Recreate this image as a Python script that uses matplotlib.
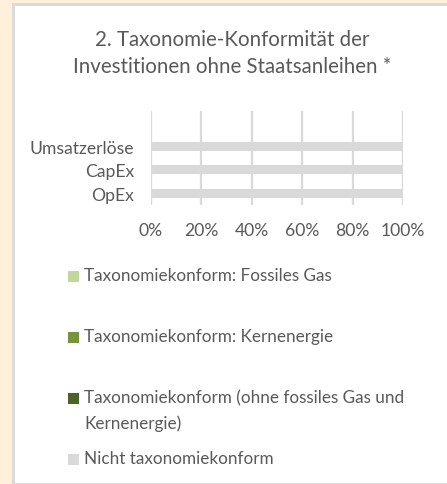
import matplotlib.pyplot as plt
from matplotlib.patches import Rectangle
import matplotlib.ticker as mticker

# --- Daten ---
categories = ["OpEx", "CapEx", "Umsatzerlöse"]
fossiles_gas = [0, 0, 0]
kernenergie = [0, 0, 0]
ohne_gas_kern = [0, 0, 0]
nicht_konform = [100, 100, 100]

series_labels = [
    "Taxonomiekonform: Fossiles Gas",
    "Taxonomiekonform: Kernenergie",
    "Taxonomiekonform (ohne fossiles Gas und\nKernenergie)",
    "Nicht taxonomiekonform",
]
series_colors = ["#C4D79B", "#77933C", "#4F6228", "#D9D9D9"]
x_ticks = [0, 20, 40, 60, 80, 100]

plt.rcParams["font.family"] = ["Lato", "DejaVu Sans"]
text_color = "#595959"

W, H = 447, 485
fig = plt.figure(figsize=(W / 100, H / 100), dpi=100)
fig.patch.set_facecolor("#FFEFDB")

# weißes Panel mit grauem Rand
fig.patches.append(Rectangle((13 / W, 0), 1, 1 - 5 / H, transform=fig.transFigure,
                             facecolor="white", edgecolor="#D9D9D9", linewidth=2, zorder=-10))

ax = fig.add_axes([151 / W, 1 - 206 / H, (403 - 151) / W, (206 - 112) / H])
ax.set_facecolor("white")

y = list(range(len(categories)))
left = [0, 0, 0]
for vals, lab, col in zip([fossiles_gas, kernenergie, ohne_gas_kern, nicht_konform],
                          series_labels, series_colors):
    ax.barh(y, vals, left=left, height=0.38, color=col, label=lab, zorder=2)
    left = [a + b for a, b in zip(left, vals)]

ax.set_xlim(0, 100)
ax.set_ylim(-0.5, 3.5)
ax.set_xticks(x_ticks)
ax.xaxis.set_major_formatter(mticker.FuncFormatter(lambda v, p: f"{int(v)}%"))
ax.set_yticks(y)
ax.set_yticklabels(categories)
ax.tick_params(axis="both", length=0, labelsize=12.6, colors=text_color)
ax.tick_params(axis="x", pad=12)
ax.tick_params(axis="y", pad=12)
ax.grid(axis="x", color="#D9D9D9", linewidth=1.6, zorder=1)
for s in ax.spines.values():
    s.set_visible(False)

fig.text(232 / W, 1 - 53.5 / H, "2. Taxonomie-Konformität der\nInvestitionen ohne Staatsanleihen *",
         ha="center", va="center", fontsize=14.8, color=text_color, linespacing=1.45)

# Legende
leg_y = [277, 338, 399, 460]
for lab, col, yy in zip(series_labels, series_colors, leg_y):
    fig.patches.append(Rectangle((68 / W, 1 - (yy + 5.5) / H), 11 / W, 11 / H,
                                 transform=fig.transFigure, facecolor=col, edgecolor="none"))
    fig.text(84 / W, 1 - (yy - 9) / H, lab, ha="left", va="top", fontsize=12.3,
             color=text_color, linespacing=1.65)

fig.savefig("out.png", dpi=100, facecolor=fig.get_facecolor())
